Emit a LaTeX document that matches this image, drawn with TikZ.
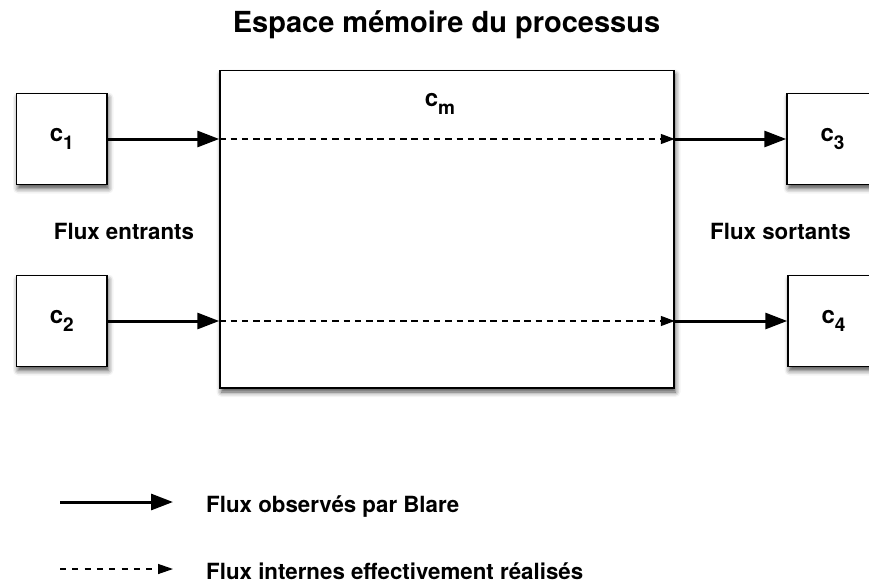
\documentclass[tikz,border=0pt]{standalone}
\usepackage{fontspec}
\setmainfont{TeX Gyre Heros}
\usetikzlibrary{arrows.meta,shadows.blur}
\newcommand{\csub}[1]{c\raisebox{-7.5pt}{\fontsize{19}{19}\selectfont #1}}
\begin{document}
\begin{tikzpicture}[x=1pt,y=-1pt,
  box/.style={draw=black,line width=1.5pt,fill=white,inner sep=0pt,
    blur shadow={shadow xshift=1.5pt,shadow yshift=-4pt,shadow blur radius=5pt,shadow opacity=70}},
  lab/.style={font=\fontsize{22.3}{22.3}\selectfont\bfseries},
  clab/.style={font=\fontsize{24}{24}\selectfont\bfseries},
  obs/.style={line width=3pt,-{Triangle[length=22pt,width=16pt]}},
  int/.style={line width=1.3pt,dash pattern=on 6.5pt off 4.8pt,-{Triangle[length=14pt,width=10pt]}},
  intleg/.style={line width=1.3pt,dash pattern=on 6pt off 6.3pt,-{Triangle[length=15pt,width=10pt]}},
]
\path[use as bounding box] (0,0) rectangle (869,583);
% title
\node[anchor=base,font=\fontsize{29}{29}\selectfont\bfseries] (title) at (446.5,33) {Espace mémoire du processus};
% boxes
\node[box,minimum width=454pt,minimum height=317.5pt] (cm) at (447,229.25) {};
\node[box,minimum width=90.5pt,minimum height=91pt,clab] (c1) at (61.75,139) {\csub{1}};
\node[box,minimum width=90.5pt,minimum height=91pt,clab] (c2) at (61.75,321) {\csub{2}};
\node[box,minimum width=91pt,minimum height=91pt,clab] (c3) at (832.5,139) {\csub{3}};
\node[box,minimum width=91pt,minimum height=91pt,clab] (c4) at (833.5,321) {\csub{4}};
\node[clab] (cml) at (440,104) {\csub{m}};
% side labels
\node[lab,anchor=base] (fe) at (124,239) {Flux entrants};
\node[lab,anchor=base] (fs) at (780.5,239) {Flux sortants};
% arrows
\coordinate (a1) at (c1.east -| cm.west);
\coordinate (b1) at (c1.east -| cm.east);
\coordinate (a2) at (c2.east -| cm.west);
\coordinate (b2) at (c2.east -| cm.east);
\draw[obs] (c1.east) -- (a1);
\draw[int] (a1) -- (b1);
\draw[obs] (b1) -- (c3.west);
\draw[obs] (c2.east) -- (a2);
\draw[int] (a2) -- (b2);
\draw[obs] (b2) -- (c4.west);
% legend
\coordinate (l1a) at (60,502);
\coordinate (l1b) at (173,502);
\coordinate (l2a) at (60,569);
\coordinate (l2b) at (173,569);
\draw[obs] (l1a) -- (l1b);
\draw[intleg] (l2a) -- (l2b);
\node[lab,anchor=base west,inner sep=0pt] (t1) at (206,512) {Flux observés par Blare};
\node[lab,anchor=base west,inner sep=0pt] (t2) at (206,579) {Flux internes effectivement réalisés};
\end{tikzpicture}
\end{document}
